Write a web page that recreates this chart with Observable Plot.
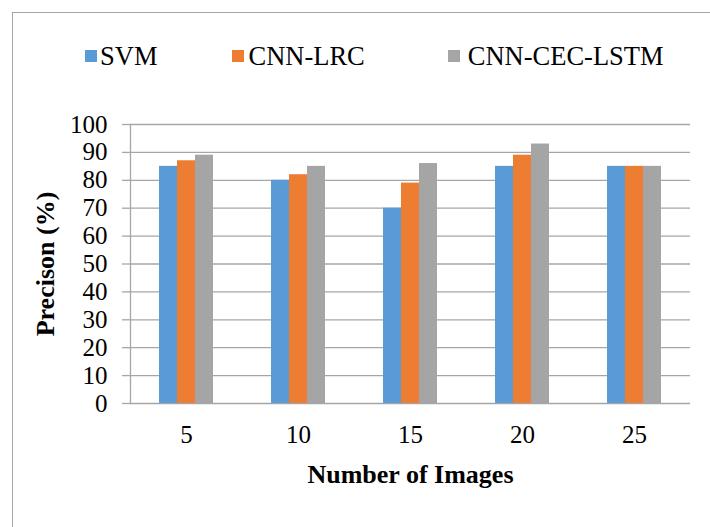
<!DOCTYPE html>
<html>
<head>
<meta charset="utf-8">
<script src="https://cdn.jsdelivr.net/npm/d3@7"></script>
<script src="https://cdn.jsdelivr.net/npm/@observablehq/plot@0.6"></script>
<style>
  body { margin: 0; background: #fff; }
  #wrap { position: relative; width: 710px; height: 527px; overflow: hidden; background: #fff; }
  #border { position: absolute; left: 12px; top: 12px; width: 760px; height: 600px; border: 1px solid #a6a6a6; box-sizing: border-box; }
  #legend { position: absolute; top: 41px; left: 85px; display: flex; font-size: 26.5px; line-height: 30px; color: #000; white-space: nowrap; }
  .item { display: flex; align-items: center; flex-shrink: 0; }
  .sw { width: 12px; height: 12px; flex-shrink: 0; }
  #chart { position: absolute; left: 0; top: 0; }
</style>
</head>
<body>
<div id="wrap" style="font-family:'Liberation Serif','Times New Roman',serif">
  <div id="border"></div>
  <div id="chart"></div>
  <div id="legend" style="font-family:'Liberation Serif','Times New Roman',serif"></div>
</div>
<script>
const categories = ["5", "10", "15", "20", "25"];
const seriesNames = ["SVM", "CNN-LRC", "CNN-CEC-LSTM"];
const seriesColors = ["#5B9BD5", "#ED7D31", "#A5A5A5"];
const svmValues = [85, 80, 70, 85, 85];
const cnnLrcValues = [87, 82, 79, 89, 85];
const cnnCecLstmValues = [89, 85, 86, 93, 85];
const yTicks = [0, 10, 20, 30, 40, 50, 60, 70, 80, 90, 100];
const xLabel = "Number of Images";
const yLabel = "Precison (%)";

const seriesValues = [svmValues, cnnLrcValues, cnnCecLstmValues];
const rows = [];
categories.forEach((c, i) => {
  seriesNames.forEach((s, j) => rows.push({cat: c, series: s, value: seriesValues[j][i]}));
});

const serif = "'Liberation Serif', 'Times New Roman', serif";
const chart = Plot.plot({
  width: 710,
  height: 527,
  marginLeft: 130,
  marginRight: 20,
  marginTop: 124,
  marginBottom: 124,
  style: "background: transparent; color: #000; font-family: 'Liberation Serif', 'Times New Roman', serif;",
  fx: {domain: categories, padding: 0},
  x: {domain: seriesNames, paddingInner: 0, paddingOuter: 1.5, axis: null},
  y: {domain: [0, 100]},
  color: {domain: seriesNames, range: seriesColors},
  marks: [
    Plot.gridY(yTicks, {stroke: "#a6a6a6", strokeOpacity: 1, strokeWidth: 1.3}),
    Plot.frame({anchor: "left", facetAnchor: "left", stroke: "#a6a6a6", strokeWidth: 1.3}),
    Plot.barY(rows, {fx: "cat", x: "series", y: "value", fill: "series"}),
    Plot.axisY({ticks: yTicks, tickSize: 8, tickPadding: 15, fontSize: 25, fontFamily: serif, stroke: "#a6a6a6", strokeWidth: 1.3, label: null, tickFormat: d => String(d)}),
    Plot.axisY({ticks: [], label: yLabel, labelAnchor: "center", labelArrow: "none", labelOffset: 95, fontSize: 26, fontFamily: serif, fontWeight: "bold"}),
    Plot.axisFx({anchor: "bottom", tickSize: 0, tickPadding: 22, fontSize: 25, fontFamily: serif, label: null}),
    Plot.axisFx({anchor: "bottom", ticks: [], label: xLabel, labelAnchor: "center", labelArrow: "none", labelOffset: 79, fontSize: 26, fontFamily: serif, fontWeight: "bold"})
  ]
});
chart.style.fontFamily = serif;
chart.querySelectorAll("g, text, tspan").forEach(el => { el.style.fontFamily = serif; });
document.getElementById("chart").appendChild(chart);

// legend spacing (Excel-like layout)
const itemGapAfter = [75, 83, 0];
const swatchGap = [3, 4, 8];
const legend = document.getElementById("legend");
seriesNames.forEach((s, j) => {
  const item = document.createElement("div");
  item.className = "item";
  item.style.marginRight = itemGapAfter[j] + "px";
  const sw = document.createElement("span");
  sw.className = "sw";
  sw.style.background = seriesColors[j];
  sw.style.marginRight = swatchGap[j] + "px";
  const t = document.createElement("span");
  t.textContent = s;
  t.style.fontFamily = serif;
  item.appendChild(sw);
  item.appendChild(t);
  legend.appendChild(item);
});
</script>
</body>
</html>
